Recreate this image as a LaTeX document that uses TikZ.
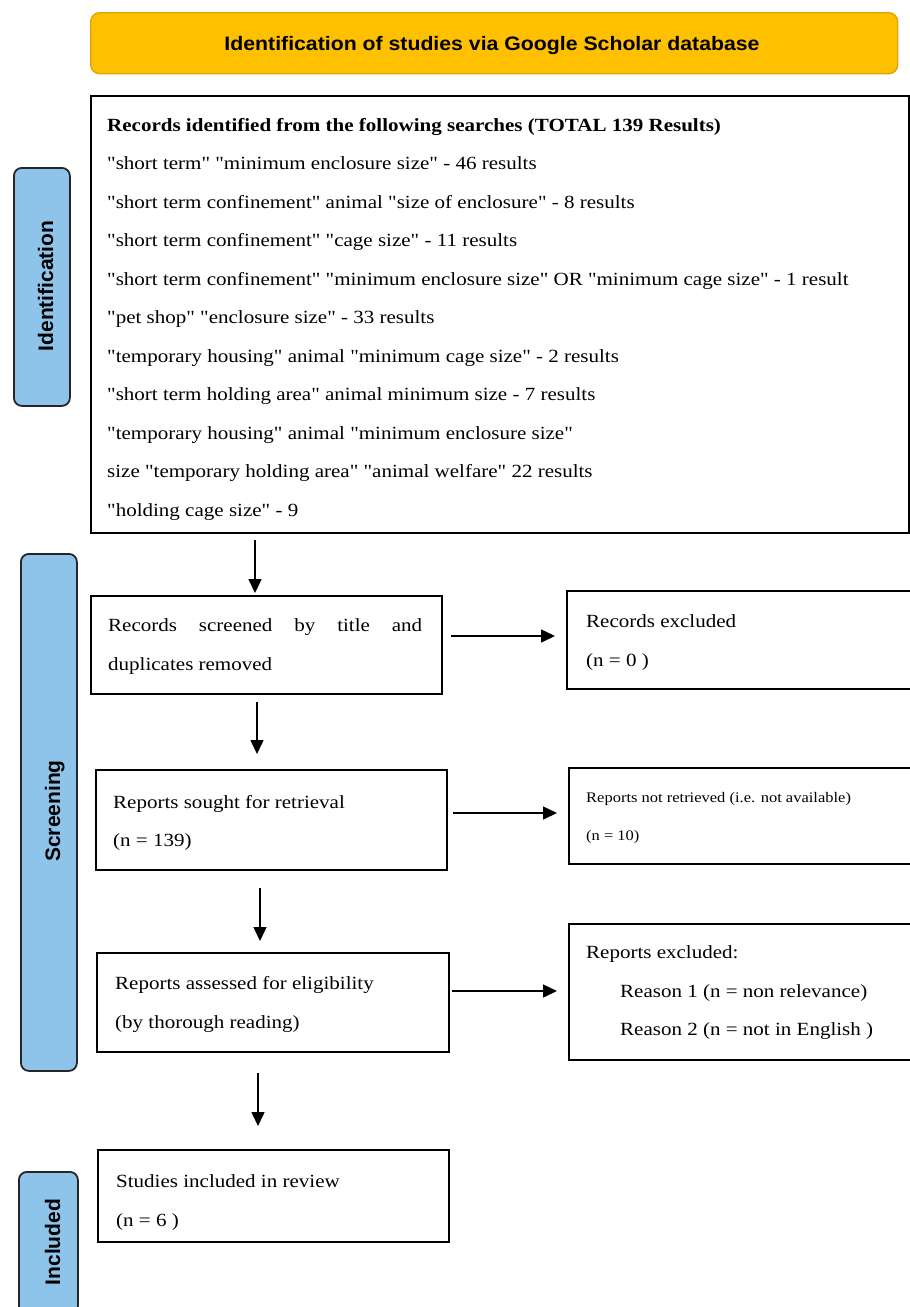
\documentclass[tikz,border=0pt]{standalone}
\usepackage{fontspec}
\setmainfont{Liberation Serif}[FakeStretch=1.13,Ligatures=TeXOff]
\newfontfamily\titlefont{Liberation Sans}[FakeStretch=1.09]
\newfontfamily\sidefont{Liberation Sans}
\usetikzlibrary{arrows.meta}
\definecolor{gold}{HTML}{FFC000}
\definecolor{goldline}{HTML}{E0A400}
\definecolor{sideblue}{HTML}{8EC4EA}
\begin{document}
\begin{tikzpicture}[x=1pt,y=-1pt,
  box/.style={draw=black,line width=2.4pt,fill=white,anchor=north west,inner sep=0pt},
  side/.style={draw=black!85,line width=1.8pt,fill=sideblue,rounded corners=8pt,anchor=north west,inner sep=0pt},
  titlebox/.style={draw=goldline,line width=1.4pt,fill=gold,rounded corners=9pt,anchor=north west,inner sep=0pt},
  sidelabel/.style={rotate=90,anchor=base,inner sep=0pt,font=\sidefont\bfseries\fontsize{21}{21}\selectfont},
  txt/.style={anchor=base west,inner sep=0pt,font=\fontsize{18.6}{20}\selectfont},
  smalltxt/.style={anchor=base west,inner sep=0pt,font=\fontsize{14.6}{16}\selectfont},
  arr/.style={line width=1.5pt,-{Triangle[length=14pt,width=13pt]}}]
\useasboundingbox (0,0) rectangle (910,1307);
\clip (0,0) rectangle (910,1307);

% title
\node[titlebox,minimum width=807pt,minimum height=61pt] (title) at (90,12) {};
\node[anchor=base,inner sep=0pt,font=\titlefont\bfseries\fontsize{19.5}{20}\selectfont] (titletext) at (492,50) {Identification of studies via Google Scholar database};

% side labels
\node[side,minimum width=56pt,minimum height=238pt] (sideI) at (13,167) {};
\node[sidelabel] (sideItext) at (53,286) {Identification};
\node[side,minimum width=56pt,minimum height=517pt] (sideS) at (20,553) {};
\node[sidelabel] (sideStext) at (60,811) {Screening};
\node[side,minimum width=59pt,minimum height=142pt] (sideInc) at (18,1171) {};
\node[sidelabel] (sideInctext) at (60,1242) {Included};

% records identified
\node[box,minimum width=818pt,minimum height=437pt] (rec) at (90,95) {};
\node[txt,font=\fontsize{18.6}{20}\selectfont\bfseries] (r0) at (107,131) {Records identified from the following searches (TOTAL 139 Results)};
\node[txt] (r1) at (107,169.5) {"short term" "minimum enclosure size" - 46 results};
\node[txt] (r2) at (107,208) {"short term confinement" animal "size of enclosure" - 8 results};
\node[txt] (r3) at (107,246.5) {"short term confinement" "cage size" - 11 results};
\node[txt] (r4) at (107,285) {"short term confinement" "minimum enclosure size" OR "minimum cage size" - 1 result};
\node[txt] (r5) at (107,323.5) {"pet shop" "enclosure size" - 33 results};
\node[txt] (r6) at (107,362) {"temporary housing" animal "minimum cage size" - 2 results};
\node[txt] (r7) at (107,400.5) {"short term holding area" animal minimum size - 7 results};
\node[txt] (r8) at (107,439) {"temporary housing" animal "minimum enclosure size"};
\node[txt] (r9) at (107,477.5) {size "temporary holding area" "animal welfare" 22 results};
\node[txt] (r10) at (107,516) {"holding cage size" - 9};

% screening boxes
\node[box,minimum width=351pt,minimum height=98pt] (scr) at (90,595) {};
\node[txt] (scr1) at (108,631) {\makebox[314pt][s]{Records screened by title and}};
\node[txt] (scr2) at (108,670) {duplicates removed};

\node[box,minimum width=354pt,minimum height=98pt] (exc1) at (566,590) {};
\node[txt] (exc1a) at (586,627) {Records excluded};
\node[txt] (exc1b) at (586,666) {(n = 0 )};

\node[box,minimum width=351pt,minimum height=100pt] (sought) at (95,769) {};
\node[txt] (sought1) at (113,808) {Reports sought for retrieval};
\node[txt] (sought2) at (113,846) {(n = 139)};

\node[box,minimum width=352pt,minimum height=96pt] (exc2) at (568,767) {};
\node[smalltxt] (exc2a) at (586,802) {Reports not retrieved (i.e. not available)};
\node[smalltxt] (exc2b) at (586,840) {(n = 10)};

\node[box,minimum width=352pt,minimum height=99pt] (assess) at (96,952) {};
\node[txt] (assess1) at (115,989) {Reports assessed for eligibility};
\node[txt] (assess2) at (115,1028) {(by thorough reading)};

\node[box,minimum width=352pt,minimum height=136pt] (exc3) at (568,923) {};
\node[txt] (exc3a) at (586,958) {Reports excluded:};
\node[txt] (exc3b) at (620,997) {Reason 1 (n = non relevance)};
\node[txt] (exc3c) at (620,1035) {Reason 2 (n = not in English )};

\node[box,minimum width=351pt,minimum height=92pt] (studies) at (97,1149) {};
\node[txt] (studies1) at (116,1187) {Studies included in review};
\node[txt] (studies2) at (116,1226) {(n = 6 )};

% arrows
\coordinate (a1s) at (255,540); \coordinate (a1e) at (255,593);
\coordinate (a2s) at (257,702); \coordinate (a2e) at (257,754);
\coordinate (a3s) at (260,888); \coordinate (a3e) at (260,941);
\coordinate (a4s) at (258,1073); \coordinate (a4e) at (258,1126);
\coordinate (h1s) at (451,636); \coordinate (h1e) at (555,636);
\coordinate (h2s) at (453,813); \coordinate (h2e) at (557,813);
\coordinate (h3s) at (452,991); \coordinate (h3e) at (557,991);
\draw[arr] (a1s) -- (a1e);
\draw[arr] (a2s) -- (a2e);
\draw[arr] (a3s) -- (a3e);
\draw[arr] (a4s) -- (a4e);
\draw[arr] (h1s) -- (h1e);
\draw[arr] (h2s) -- (h2e);
\draw[arr] (h3s) -- (h3e);
\end{tikzpicture}
\end{document}
